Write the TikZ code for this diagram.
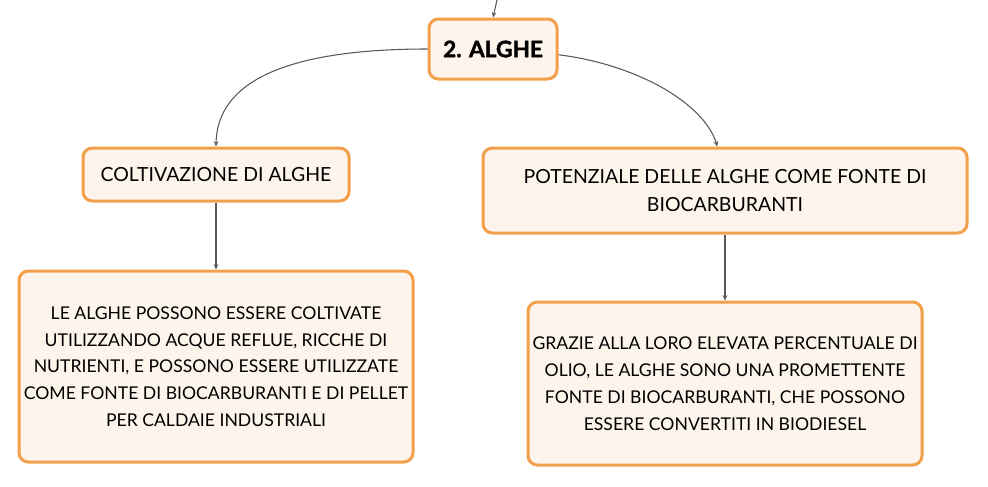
\documentclass[tikz,border=0pt]{standalone}
\usepackage{fontspec}
\setmainfont{Lato}
\newfontfamily\heavyfont[BoldFeatures={FakeBold=1.6}]{Lato}
\usetikzlibrary{arrows.meta}
\definecolor{boxborder}{HTML}{F2A04C}
\definecolor{boxfill}{HTML}{FDF4EB}
\definecolor{linegray}{HTML}{595959}
\tikzset{
  box/.style={draw=boxborder, fill=boxfill, line width=2.25pt, rounded corners=7pt,
    inner sep=0pt, align=center, text=black,
    font={\fontsize{13.2}{20.1}\selectfont}},
  midbox/.style={box, font={\fontsize{14.6}{21}\selectfont}},
  conn/.style={draw=linegray, line width=0.8pt, -{Stealth[length=4pt,width=3.5pt]}},
}
\begin{document}
\begin{tikzpicture}[x=0.75pt,y=-0.75pt]
\fill[white] (0,0) rectangle (988,486);
\useasboundingbox (0,0) rectangle (988,486);

\node[box, minimum width=96pt, minimum height=45pt, font={\fontsize{17}{20}\selectfont\heavyfont\bfseries}] (algh) at (493,49) {2. ALGHE};
\node[midbox, minimum width=199.5pt, minimum height=39.75pt] (colt) at (216,174.5) {COLTIVAZIONE DI ALGHE};
\node[midbox, minimum width=363pt, minimum height=63.75pt] (pot) at (725,190.5) {POTENZIALE DELLE ALGHE COME FONTE DI\\BIOCARBURANTI};
\node[box, minimum width=295.5pt, minimum height=143.25pt] (lb) at (216,366.5) {LE ALGHE POSSONO ESSERE COLTIVATE\\UTILIZZANDO ACQUE REFLUE, RICCHE DI\\NUTRIENTI, E POSSONO ESSERE UTILIZZATE\\COME FONTE DI BIOCARBURANTI E DI PELLET\\PER CALDAIE INDUSTRIALI};
\node[box, minimum width=295.5pt, minimum height=122.25pt] (rb) at (725,383.5) {GRAZIE ALLA LORO ELEVATA PERCENTUALE DI\\OLIO, LE ALGHE SONO UNA PROMETTENTE\\FONTE DI BIOCARBURANTI, CHE POSSONO\\ESSERE CONVERTITI IN BIODIESEL};

\coordinate (topin) at (497,0);
\draw[conn] (topin) -- (algh.north);
\draw[conn] (algh.west) .. controls (290,49) and (217,80) .. (colt.north);
\draw[conn] (algh.-5) .. controls (640,65) and (705,105) .. (pot.100.7);
\draw[conn] (colt.south) -- (lb.north);
\draw[conn] (pot.south) -- (rb.north);
\end{tikzpicture}
\end{document}
